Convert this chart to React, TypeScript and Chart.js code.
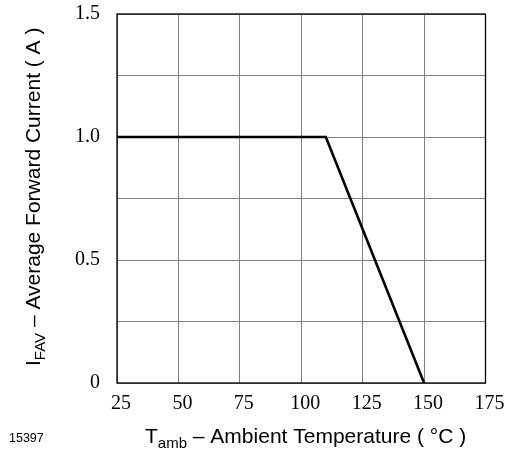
import React, { useEffect, useRef } from "react";
import { Chart, registerables } from "chart.js";

Chart.register(...registerables);

const tempC: number[] = [25, 110, 150];
const currentA: number[] = [1.0, 1.0, 0];
const xTickValues: number[] = [25, 50, 75, 100, 125, 150, 175];
const yTickLabels: string[] = ["0", "0.5", "1.0", "1.5"];
const yTickLabelValues: number[] = [0, 0.5, 1.0, 1.5];
const figureId = "15397";

const frameAndTitles = {
  id: "frameAndTitles",
  beforeDatasetsDraw(chart: any) {
    const { ctx, chartArea } = chart;
    ctx.save();
    ctx.strokeStyle = "#000";
    ctx.lineWidth = 1.3;
    ctx.strokeRect(chartArea.left, chartArea.top, chartArea.right - chartArea.left, chartArea.bottom - chartArea.top);
    ctx.restore();
  },
  afterDraw(chart: any) {
    const { ctx } = chart;
    ctx.save();
    ctx.fillStyle = "#000";
    ctx.textBaseline = "alphabetic";
    ctx.textAlign = "left";
    const main = "21px 'Liberation Sans', Arial, sans-serif";
    const sub = "15px 'Liberation Sans', Arial, sans-serif";
    // x title
    let x = 145;
    const yb = 443;
    ctx.font = main;
    ctx.fillText("T", x, yb);
    x += ctx.measureText("T").width;
    ctx.font = sub;
    ctx.fillText("amb", x, yb + 5);
    x += ctx.measureText("amb").width;
    ctx.font = main;
    ctx.fillText(" \u2013 Ambient Temperature ( \u00B0C )", x, yb);

    // y title (rotated)
    ctx.save();
    ctx.translate(40, 366);
    ctx.rotate(-Math.PI / 2);
    let t = 0;
    ctx.font = main;
    ctx.fillText("I", t, 0);
    t += ctx.measureText("I").width;
    ctx.font = sub;
    ctx.fillText("FAV", t, 5);
    t += ctx.measureText("FAV").width;
    ctx.font = main;
    ctx.fillText(" \u2013 Average Forward Current ( A )", t, 0);
    ctx.restore();

    // figure id
    ctx.font = "12.5px 'Liberation Sans', Arial, sans-serif";
    ctx.textBaseline = "middle";
    ctx.fillText(figureId, 9, 439);
    ctx.restore();
  },
};

export default function App() {
  const canvasRef = useRef<HTMLCanvasElement | null>(null);

  useEffect(() => {
    if (!canvasRef.current) return;
    const points = tempC.map((t, i) => ({ x: t, y: currentA[i] }));
    const chart = new Chart(canvasRef.current, {
      type: "scatter",
      data: {
        datasets: [
          {
            data: points,
            showLine: true,
            borderColor: "#000",
            borderWidth: 2.6,
            pointRadius: 0,
            fill: false,
          },
        ],
      },
      options: {
        responsive: false,
        animation: false,
        events: [],
        layout: { padding: { top: 14, right: 19.5, left: 0, bottom: 0 } },
        plugins: { legend: { display: false }, tooltip: { enabled: false } },
        scales: {
          x: {
            type: "linear",
            min: 25,
            max: 175,
            afterFit: (s: any) => {
              s.height = 73;
              s.paddingLeft = 0;
              s.paddingRight = 0;
            },
            afterBuildTicks: (s: any) => {
              s.ticks = xTickValues.map((v) => ({ value: v }));
            },
            ticks: {
              autoSkip: false,
              maxRotation: 0,
              padding: 9,
              labelOffset: 4,
              color: "#000",
              font: { family: "'Liberation Serif', 'Times New Roman', serif", size: 20 },
              callback: (v: any) => String(v),
            },
            grid: { color: "#808080", lineWidth: 1, drawTicks: false },
            border: { display: false },
          },
          y: {
            type: "linear",
            min: 0,
            max: 1.5,
            afterFit: (s: any) => {
              s.width = 117;
              s.paddingTop = 0;
              s.paddingBottom = 0;
            },
            ticks: {
              stepSize: 0.25,
              autoSkip: false,
              padding: 17,
              color: "#000",
              font: { family: "'Liberation Serif', 'Times New Roman', serif", size: 20 },
              callback: (v: any) => {
                const i = yTickLabelValues.findIndex((u) => Math.abs(u - Number(v)) < 1e-6);
                return i >= 0 ? yTickLabels[i] : "";
              },
            },
            grid: { color: "#808080", lineWidth: 1, drawTicks: false },
            border: { display: false },
          },
        },
      },
      plugins: [frameAndTitles],
    });
    return () => chart.destroy();
  }, []);

  return (
    <div style={{ position: "absolute", left: 0, top: 0, width: 505, height: 456, background: "#fff" }}>
      <canvas ref={canvasRef} width={505} height={456} />
    </div>
  );
}
